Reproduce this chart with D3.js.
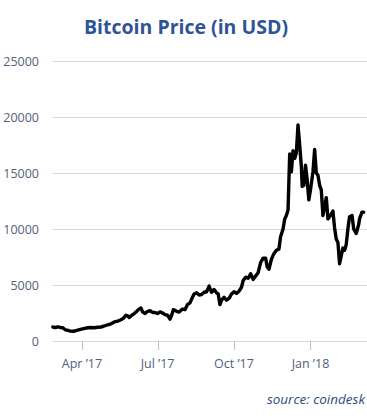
<!doctype html>
<html lang="en">
<head>
  <meta charset="utf-8">
  <script src="https://d3js.org/d3.v7.min.js"></script>
  <style>
    body { margin: 0; background: #fff; }
  </style>
</head>
<body>
  <script>
    // price samples (coindesk close, USD)
    var dates = [
      "2017-02-25","2017-02-28","2017-03-03","2017-03-06","2017-03-09","2017-03-12","2017-03-15","2017-03-18",
      "2017-03-22","2017-03-25","2017-03-29","2017-04-03","2017-04-08","2017-04-12","2017-04-16","2017-04-20",
      "2017-04-24","2017-04-28","2017-05-02","2017-05-06","2017-05-10","2017-05-14","2017-05-18","2017-05-21",
      "2017-05-24","2017-05-26","2017-05-28","2017-05-31","2017-06-03","2017-06-06","2017-06-08","2017-06-11",
      "2017-06-13","2017-06-16","2017-06-19","2017-06-22","2017-06-25","2017-06-28","2017-07-01","2017-07-04",
      "2017-07-07","2017-07-10","2017-07-13","2017-07-16","2017-07-18","2017-07-20","2017-07-24","2017-07-27",
      "2017-07-31","2017-08-03","2017-08-06","2017-08-09","2017-08-12","2017-08-14","2017-08-17","2017-08-20",
      "2017-08-23","2017-08-26","2017-08-29","2017-09-01","2017-09-04","2017-09-07","2017-09-10","2017-09-12",
      "2017-09-14","2017-09-16","2017-09-19","2017-09-22","2017-09-25","2017-09-28","2017-10-01","2017-10-04",
      "2017-10-07","2017-10-10","2017-10-12","2017-10-15","2017-10-18","2017-10-21","2017-10-24","2017-10-27",
      "2017-10-30","2017-11-02","2017-11-05","2017-11-08","2017-11-10","2017-11-12","2017-11-15","2017-11-18",
      "2017-11-21","2017-11-24","2017-11-26","2017-11-29","2017-12-01","2017-12-03","2017-12-05","2017-12-07",
      "2017-12-09","2017-12-11","2017-12-13","2017-12-15","2017-12-17","2017-12-19","2017-12-21","2017-12-22",
      "2017-12-24","2017-12-26","2017-12-28","2017-12-30","2018-01-01","2018-01-04","2018-01-06","2018-01-08",
      "2018-01-10","2018-01-12","2018-01-14","2018-01-16","2018-01-18","2018-01-20","2018-01-22","2018-01-25",
      "2018-01-28","2018-01-30","2018-02-01","2018-02-03","2018-02-05","2018-02-07","2018-02-09","2018-02-11",
      "2018-02-13","2018-02-15","2018-02-17","2018-02-20","2018-02-22","2018-02-25","2018-02-28","2018-03-01",
      "2018-03-04","2018-03-06"
    ];
    var prices = [
      1250, 1190, 1270, 1210, 1180, 1000, 960, 880,
      870, 930, 1010, 1110, 1180, 1200, 1180, 1230,
      1250, 1340, 1450, 1540, 1700, 1780, 1900, 2050,
      2300, 2250, 2100, 2300, 2450, 2650, 2800, 2950,
      2600, 2450, 2650, 2700, 2550, 2550, 2450, 2600,
      2500, 2350, 2300, 1950, 2300, 2800, 2650, 2580,
      2850, 2800, 3250, 3400, 3900, 4200, 4300, 4100,
      4150, 4350, 4400, 4900, 4350, 4600, 4300, 4200,
      3250, 3650, 3900, 3650, 3800, 4200, 4400, 4250,
      4450, 4800, 5400, 5700, 5600, 6000, 5500, 5800,
      6100, 7000, 7400, 7400, 6600, 6400, 7300, 7800,
      8100, 8200, 9300, 10000, 10900, 11200, 11700, 16700,
      15100, 17000, 16300, 16800, 19300, 17500, 15600, 13800,
      13900, 15700, 14400, 12600, 13500, 15100, 17100, 15000,
      14800, 13900, 13500, 11200, 12000, 12800, 10900, 11200,
      11600, 10100, 9100, 8800, 6900, 7600, 8300, 8100,
      8600, 10000, 11100, 11200, 10000, 9600, 10400, 10900,
      11500, 11500
    ];

    var yTicks = [0, 5000, 10000, 15000, 20000, 25000];
    var xTickDates = ["2017-04-01", "2017-07-01", "2017-10-01", "2018-01-01"];
    var xTickLabels = ["Apr \u201917", "Jul \u201917", "Oct \u201917", "Jan \u201918"];

    var width = 367, height = 418;
    var parse = d3.timeParse("%Y-%m-%d");

    var x = d3.scaleTime()
        .domain([parse("2017-02-24"), parse("2018-03-10")])
        .range([52, 367]);
    var y = d3.scaleLinear()
        .domain([0, 25000])
        .range([341, 61]);

    var svg = d3.select("body").append("svg")
        .attr("width", width)
        .attr("height", height)
        .style("display", "block")
        .style("background", "#fff");

    // title
    svg.append("text")
        .attr("x", 186)
        .attr("y", 34)
        .attr("text-anchor", "middle")
        .style("font-family", "'Open Sans', sans-serif")
        .style("font-weight", "bold")
        .style("font-size", "19.5px")
        .style("fill", "#2f5496")
        .text("Bitcoin Price (in USD)");

    // horizontal gridlines + y labels
    var grid = svg.append("g");
    grid.selectAll("line")
        .data(yTicks)
      .enter().append("line")
        .attr("x1", 52)
        .attr("x2", 367)
        .attr("y1", function(d) { return Math.round(y(d)) + 0.5; })
        .attr("y2", function(d) { return Math.round(y(d)) + 0.5; })
        .style("stroke", "#d9d9d9")
        .style("stroke-width", 1);

    grid.selectAll("text")
        .data(yTicks)
      .enter().append("text")
        .attr("x", 39)
        .attr("y", function(d) { return y(d); })
        .attr("dy", "0.36em")
        .attr("text-anchor", "end")
        .style("font-family", "'Open Sans', sans-serif")
        .style("font-size", "12.5px")
        .style("fill", "#52607c")
        .text(function(d) { return d; });

    // x axis ticks and labels
    var xt = svg.append("g");
    xt.selectAll("line")
        .data(xTickDates)
      .enter().append("line")
        .attr("x1", function(d) { return Math.round(x(parse(d))) + 0.5; })
        .attr("x2", function(d) { return Math.round(x(parse(d))) + 0.5; })
        .attr("y1", 341)
        .attr("y2", 350)
        .style("stroke", "#bfbfbf")
        .style("stroke-width", 1);

    xt.selectAll("text")
        .data(xTickDates)
      .enter().append("text")
        .attr("x", function(d) { return x(parse(d)); })
        .attr("y", 368)
        .attr("text-anchor", "middle")
        .style("font-family", "'Open Sans', sans-serif")
        .style("font-size", "12.5px")
        .style("fill", "#52607c")
        .text(function(d, i) { return xTickLabels[i]; });

    // price line
    var data = dates.map(function(d, i) { return { date: parse(d), price: prices[i] }; });
    var line = d3.line()
        .x(function(d) { return x(d.date); })
        .y(function(d) { return y(d.price); });

    svg.append("path")
        .datum(data)
        .attr("d", line)
        .style("fill", "none")
        .style("stroke", "#000")
        .style("stroke-width", 3.4)
        .style("stroke-linejoin", "round")
        .style("stroke-linecap", "round");

    // source note
    svg.append("text")
        .attr("x", 365)
        .attr("y", 404)
        .attr("text-anchor", "end")
        .style("font-family", "'Open Sans', sans-serif")
        .style("font-style", "italic")
        .style("font-size", "13.5px")
        .style("fill", "#2f4a7a")
        .text("source: coindesk");
  </script>
</body>
</html>
